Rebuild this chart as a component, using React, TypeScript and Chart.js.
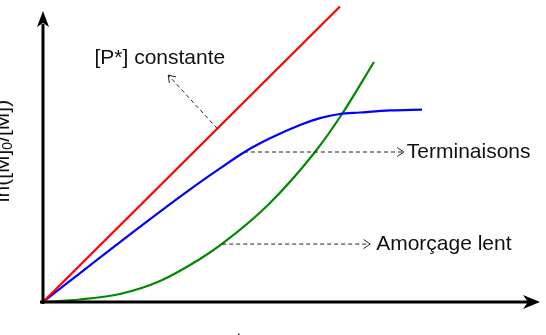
import React, { useEffect, useRef } from "react";
import { Chart, registerables } from "chart.js";

Chart.register(...registerables);

// Curves (x: time, y: ln([M]0/[M]), arbitrary units 0..10)
const redX = [0, 6.0];
const redY = [0, 9.95];

const blueX = [0, 1.556, 2.903, 3.576, 4.081, 4.586, 5.192, 5.596, 6.0, 6.404, 7.01, 7.657];
const blueY = [0, 2.02, 3.71, 4.5, 5.06, 5.51, 5.96, 6.19, 6.33, 6.38, 6.45, 6.48];

const greenX = [0, 0.747, 1.556, 2.364, 3.172, 3.616, 4.545, 5.495, 6.04, 6.687];
const greenY = [0, 0.084, 0.269, 0.707, 1.448, 1.953, 3.266, 5.051, 6.33, 8.081];

const yLabelMain = ["ln([M]", "0", "/[M])"];
const xLabel = "t";

// Annotations: label, arrow from (x,y) to (x,y), text anchor (x,y), alignment
const noteLabels = ["[P*] constante", "Terminaisons", "Amorçage lent"];
const noteFromX = [3.52, 4.06, 3.62];
const noteFromY = [5.84, 5.05, 1.95];
const noteToX = [2.53, 7.29, 6.61];
const noteToY = [7.64, 5.05, 1.95];
const noteTextX = [2.36, 7.35, 6.73];
const noteTextY = [8.22, 5.05, 1.95];
const noteAlign: CanvasTextAlign[] = ["center", "left", "left"];

const toPts = (xs: number[], ys: number[]) => xs.map((x, i) => ({ x, y: ys[i] }));

const FONT = '21px "Liberation Sans", Arial, sans-serif';
const SUBFONT = '14px "Liberation Sans", Arial, sans-serif';

const overlay = {
  id: "overlay",
  afterDraw(chart: any) {
    const ctx: CanvasRenderingContext2D = chart.ctx;
    const { left, bottom } = chart.chartArea;
    const xs = chart.scales.x;
    const ys = chart.scales.y;
    const px = (v: number) => xs.getPixelForValue(v);
    const py = (v: number) => ys.getPixelForValue(v);
    ctx.save();

    // axes
    ctx.strokeStyle = "#000";
    ctx.fillStyle = "#000";
    ctx.lineWidth = 3;
    ctx.lineCap = "butt";
    ctx.beginPath();
    ctx.moveTo(left, bottom + 2);
    ctx.lineTo(left, 24);
    ctx.moveTo(left - 3, bottom);
    ctx.lineTo(528, bottom);
    ctx.stroke();
    // arrowheads
    ctx.beginPath();
    ctx.moveTo(left, 11);
    ctx.lineTo(left - 6, 27);
    ctx.lineTo(left, 23);
    ctx.lineTo(left + 6, 27);
    ctx.closePath();
    ctx.fill();
    ctx.beginPath();
    ctx.moveTo(540, bottom);
    ctx.lineTo(523, bottom - 7);
    ctx.lineTo(528, bottom);
    ctx.lineTo(523, bottom + 7);
    ctx.closePath();
    ctx.fill();

    // annotations
    ctx.lineWidth = 1;
    ctx.strokeStyle = "#222";
    for (let i = 0; i < noteLabels.length; i++) {
      const x1 = px(noteFromX[i]);
      const y1 = py(noteFromY[i]);
      const x2 = px(noteToX[i]);
      const y2 = py(noteToY[i]);
      ctx.setLineDash([4, 3]);
      ctx.beginPath();
      ctx.moveTo(x1, y1);
      ctx.lineTo(x2, y2);
      ctx.stroke();
      ctx.setLineDash([]);
      const ang = Math.atan2(y2 - y1, x2 - x1);
      const L = 8;
      ctx.beginPath();
      ctx.moveTo(x2 - L * Math.cos(ang - 0.6), y2 - L * Math.sin(ang - 0.6));
      ctx.lineTo(x2, y2);
      ctx.lineTo(x2 - L * Math.cos(ang + 0.6), y2 - L * Math.sin(ang + 0.6));
      ctx.stroke();
      ctx.fillStyle = "#111";
      ctx.font = FONT;
      ctx.textAlign = noteAlign[i];
      ctx.textBaseline = "middle";
      ctx.fillText(noteLabels[i], px(noteTextX[i]), py(noteTextY[i]));
    }

    // y label (rotated, with subscript)
    ctx.fillStyle = "#111";
    ctx.save();
    ctx.translate(3, 151);
    ctx.rotate(-Math.PI / 2);
    ctx.textBaseline = "middle";
    ctx.textAlign = "left";
    ctx.font = FONT;
    const w0 = ctx.measureText(yLabelMain[0]).width;
    ctx.font = SUBFONT;
    const w1 = ctx.measureText(yLabelMain[1]).width;
    ctx.font = FONT;
    const w2 = ctx.measureText(yLabelMain[2]).width;
    let cx = -(w0 + w1 + w2) / 2;
    ctx.fillText(yLabelMain[0], cx, 0);
    cx += w0;
    ctx.font = SUBFONT;
    ctx.fillText(yLabelMain[1], cx, 5);
    cx += w1;
    ctx.font = FONT;
    ctx.fillText(yLabelMain[2], cx, 0);
    ctx.restore();

    // x label (mostly below the visible area)
    ctx.font = FONT;
    ctx.textAlign = "center";
    ctx.textBaseline = "alphabetic";
    ctx.fillText(xLabel, 239, 347);

    ctx.restore();
  },
};

export default function App() {
  const ref = useRef<HTMLCanvasElement | null>(null);
  useEffect(() => {
    document.body.style.margin = "0";
    const canvas = ref.current;
    if (!canvas) return;
    const mk = (xs: number[], ys: number[], color: string) => ({
      data: toPts(xs, ys),
      borderColor: color,
      borderWidth: 2.2,
      pointRadius: 0,
      fill: false,
      tension: 0.4,
      cubicInterpolationMode: "monotone" as const,
    });
    const chart = new Chart(canvas, {
      type: "line",
      data: {
        datasets: [
          mk(redX, redY, "#ff0000"),
          mk(blueX, blueY, "#0000ff"),
          mk(greenX, greenY, "#008a00"),
        ],
      },
      options: {
        responsive: false,
        animation: false,
        layout: { padding: { left: 43, right: 8, top: 5, bottom: 33 } },
        plugins: { legend: { display: false }, tooltip: { enabled: false } },
        scales: {
          x: { type: "linear", min: 0, max: 10, display: false },
          y: { type: "linear", min: 0, max: 10, display: false },
        },
      },
      plugins: [overlay],
    });
    return () => chart.destroy();
  }, []);
  return (
    <div style={{ position: "absolute", left: 0, top: 0, width: 546, height: 335, background: "#fff" }}>
      <canvas ref={ref} width={546} height={335} />
    </div>
  );
}
